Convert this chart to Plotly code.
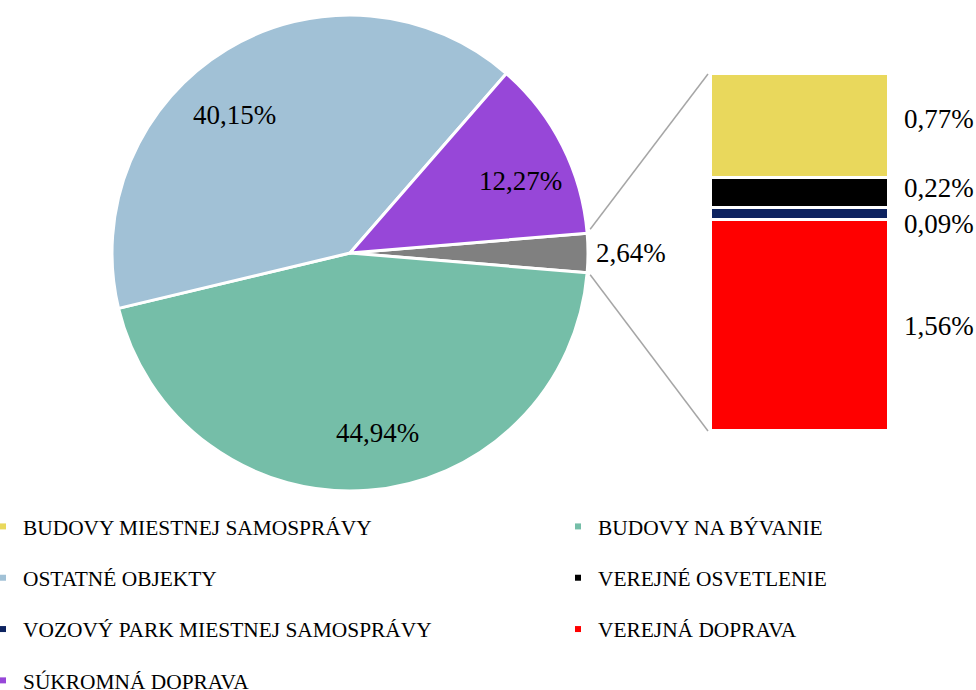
import math
import plotly.graph_objects as go

W, H = 976, 690
FONT = "'Liberation Serif', 'Times New Roman', Times, serif"

# ---------------- data ----------------
pie_labels = ["DOPRAVA (VEREJNÁ + VOZOVÝ PARK + OSVETLENIE + BUDOVY)", "BUDOVY NA BÝVANIE",
              "OSTATNÉ OBJEKTY", "SÚKROMNÁ DOPRAVA"]
pie_values = [2.64, 44.94, 40.15, 12.27]
pie_text = ["2,64%", "44,94%", "40,15%", "12,27%"]
pie_colors = ["#808080", "#75BEA8", "#A1C1D6", "#9747D8"]

bar_labels = ["VEREJNÁ DOPRAVA", "VOZOVÝ PARK MIESTNEJ SAMOSPRÁVY",
              "VEREJNÉ OSVETLENIE", "BUDOVY MIESTNEJ SAMOSPRÁVY"]
bar_values = [1.56, 0.09, 0.22, 0.77]
bar_text = ["1,56%", "0,09%", "0,22%", "0,77%"]
bar_colors = ["#FF0000", "#0D2360", "#000000", "#E9D85C"]

legend_col1 = ["BUDOVY MIESTNEJ SAMOSPRÁVY", "OSTATNÉ OBJEKTY",
               "VOZOVÝ PARK MIESTNEJ SAMOSPRÁVY", "SÚKROMNÁ DOPRAVA"]
legend_col2 = ["BUDOVY NA BÝVANIE", "VEREJNÉ OSVETLENIE", "VEREJNÁ DOPRAVA"]
legend_colors = {
    "BUDOVY MIESTNEJ SAMOSPRÁVY": "#E9D85C",
    "OSTATNÉ OBJEKTY": "#A1C1D6",
    "VOZOVÝ PARK MIESTNEJ SAMOSPRÁVY": "#0D2360",
    "SÚKROMNÁ DOPRAVA": "#9747D8",
    "BUDOVY NA BÝVANIE": "#75BEA8",
    "VEREJNÉ OSVETLENIE": "#000000",
    "VEREJNÁ DOPRAVA": "#FF0000",
}

# ---------------- layout / style ----------------
pie_px = dict(x0=112, x1=588, y0=15, y1=491)  # pixel box of the pie
pie_dom_x = [pie_px["x0"] / W, pie_px["x1"] / W]
pie_dom_y = [1 - pie_px["y1"] / H, 1 - pie_px["y0"] / H]
bar_dom_x = [711 / W, 889 / W]
bar_dom_y = [1 - 431 / H, 1 - 74 / H]
# label placement style for pie slices (angle nudge in deg, radius fraction)
pie_label_nudge = [0, -4.2, -8.6, 3.9]
pie_label_rfrac = [1.0, 0.765, 0.756, 0.777]
bar_label_yshift = [0, -10, 5, 7]
LABEL_SIZE = 27
LEGEND_SIZE = 21.4

total = sum(pie_values)
first_span = pie_values[0] / total * 360
rotation = 90 - first_span / 2  # first (gray) slice centred at 3 o'clock

fig = go.Figure()

fig.add_trace(go.Pie(
    labels=pie_labels, values=pie_values, sort=False, direction="clockwise",
    rotation=rotation, domain=dict(x=pie_dom_x, y=pie_dom_y),
    marker=dict(colors=pie_colors, line=dict(color="white", width=3)),
    textinfo="none", hoverinfo="label+percent", showlegend=False,
))

for lab, val, col in zip(bar_labels, bar_values, bar_colors):
    fig.add_trace(go.Bar(
        x=[0], y=[val], width=1, name=lab, marker=dict(color=col, line=dict(color="white", width=3.5)),
        showlegend=False, xaxis="x", yaxis="y",
    ))

# legend entries
for lab in legend_col1:
    fig.add_trace(go.Scatter(x=[None], y=[None], mode="markers", name=lab,
                             marker=dict(symbol="square", size=6, color=legend_colors[lab]),
                             legend="legend", legendgroup=lab))
for lab in legend_col2:
    fig.add_trace(go.Scatter(x=[None], y=[None], mode="markers", name=lab,
                             marker=dict(symbol="square", size=6, color=legend_colors[lab]),
                             legend="legend2", legendgroup=lab))

annotations = []
# pie labels
cx = (pie_px["x0"] + pie_px["x1"]) / 2
cy = (pie_px["y0"] + pie_px["y1"]) / 2
R = (pie_px["x1"] - pie_px["x0"]) / 2
ang = rotation
for i, (v, t) in enumerate(zip(pie_values, pie_text)):
    span = v / total * 360
    mid = ang + span / 2 + pie_label_nudge[i]
    ang += span
    rr = pie_label_rfrac[i] * R
    px = cx + rr * math.sin(math.radians(mid))
    py = cy - rr * math.cos(math.radians(mid))
    if i == 0:
        annotations.append(dict(x=px / W, y=1 - py / H, xref="paper", yref="paper", text=t,
                                showarrow=False, xanchor="left", yanchor="middle", xshift=6,
                                font=dict(family=FONT, size=LABEL_SIZE, color="black")))
    else:
        annotations.append(dict(x=px / W, y=1 - py / H, xref="paper", yref="paper", text=t,
                                showarrow=False, xanchor="center", yanchor="middle",
                                font=dict(family=FONT, size=LABEL_SIZE, color="black")))

# bar labels
cum = 0
for v, t, s in zip(bar_values, bar_text, bar_label_yshift):
    annotations.append(dict(x=0.5, y=cum + v / 2, xref="x", yref="y", text=t, showarrow=False,
                            xanchor="left", yanchor="middle", xshift=13, yshift=s,
                            font=dict(family=FONT, size=LABEL_SIZE, color="black")))
    cum += v

# connector lines
a0 = math.radians(rotation)
a1 = math.radians(rotation + first_span)
p_top = (cx + R * math.sin(a0), cy - R * math.cos(a0))
p_bot = (cx + R * math.sin(a1), cy - R * math.cos(a1))
shapes = [
    dict(type="line", xref="paper", yref="paper", x0=p_top[0] / W + 3 / W, y0=1 - p_top[1] / H + 4 / H,
         x1=bar_dom_x[0] - 3 / W, y1=bar_dom_y[1], line=dict(color="#A6A6A6", width=1.5)),
    dict(type="line", xref="paper", yref="paper", x0=p_bot[0] / W + 3 / W, y0=1 - p_bot[1] / H - 2 / H,
         x1=bar_dom_x[0] - 3 / W, y1=bar_dom_y[0], line=dict(color="#A6A6A6", width=1.5)),
]

fig.update_layout(
    width=W, height=H, margin=dict(l=0, r=0, t=0, b=0, autoexpand=False),
    paper_bgcolor="white", plot_bgcolor="white",
    barmode="stack", bargap=0,
    xaxis=dict(domain=bar_dom_x, range=[-0.5, 0.5], visible=False, fixedrange=True),
    yaxis=dict(domain=bar_dom_y, range=[0, sum(bar_values)], visible=False, fixedrange=True),
    annotations=annotations, shapes=shapes,
    font=dict(family=FONT, color="black"),
    legend=dict(x=-17 / W, y=1 - 506 / H, xanchor="left", yanchor="top", orientation="v",
                font=dict(family=FONT, size=LEGEND_SIZE, color="black"), tracegroupgap=20.5,
                bgcolor="rgba(0,0,0,0)", itemclick=False, itemdoubleclick=False),
    legend2=dict(x=558 / W, y=1 - 506 / H, xanchor="left", yanchor="top", orientation="v",
                 font=dict(family=FONT, size=LEGEND_SIZE, color="black"), tracegroupgap=20.5,
                 bgcolor="rgba(0,0,0,0)", itemclick=False, itemdoubleclick=False),
)

fig.write_html("out.html", config={"displayModeBar": False},
               post_script="document.body.style.margin='0';document.body.style.overflow='hidden';")
